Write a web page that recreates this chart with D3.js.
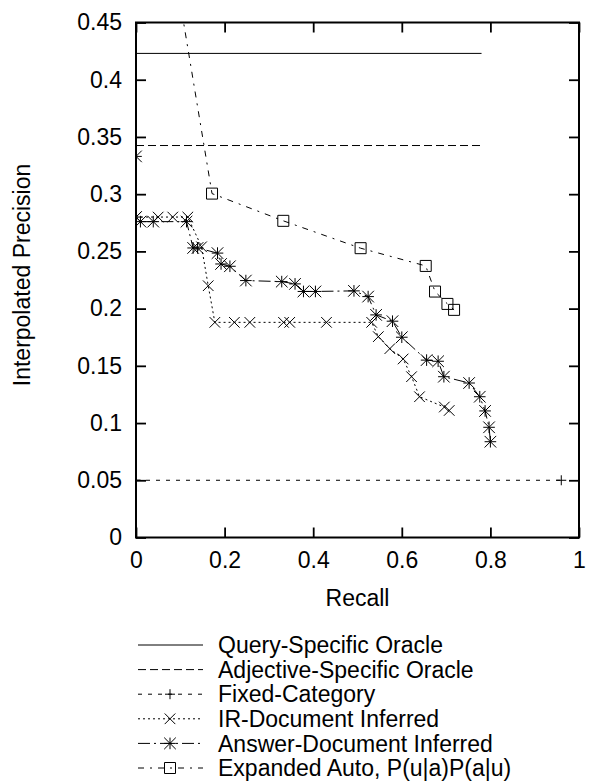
<!DOCTYPE html>
<html>
<head>
<meta charset="utf-8">
<script src="https://cdn.jsdelivr.net/npm/d3@7"></script>
<style>
body{margin:0;background:#fff;}
svg text{font-family:"Liberation Sans",Arial,Helvetica,sans-serif;fill:#000;}
</style>
</head>
<body>
<div id="chart"></div>
<script>
// values
const seriesNames = ["Query-Specific Oracle", "Adjective-Specific Oracle", "Fixed-Category",
  "IR-Document Inferred", "Answer-Document Inferred", "Expanded Auto, P(u|a)P(a|u)"];

const queryRecall = [0, 0.78];
const queryPrecision = [0.423, 0.423];

const adjRecall = [0, 0.78];
const adjPrecision = [0.3425, 0.3425];

const fixedRecall = [0, 0.96];
const fixedPrecision = [0.05, 0.05];

const irRecall = [0, 0.05, 0.083, 0.117, 0.148, 0.163, 0.178, 0.222, 0.257, 0.333, 0.347, 0.43,
  0.532, 0.547, 0.573, 0.603, 0.622, 0.64, 0.696, 0.707];
const irPrecision = [0.28, 0.28, 0.28, 0.28, 0.254, 0.22, 0.188, 0.188, 0.188, 0.188, 0.188, 0.188,
  0.188, 0.1755, 0.165, 0.156, 0.1405, 0.123, 0.114, 0.111];

const answerRecall = [0, 0, 0.01, 0.039, 0.114, 0.129, 0.139, 0.184, 0.192, 0.212, 0.248, 0.329,
  0.359, 0.378, 0.405, 0.492, 0.524, 0.542, 0.579, 0.6, 0.656, 0.682, 0.695, 0.752, 0.776,
  0.788, 0.797, 0.8];
const answerPrecision = [0.333, 0.28, 0.276, 0.276, 0.276, 0.253, 0.253, 0.2485, 0.239, 0.237,
  0.2245, 0.2236, 0.2216, 0.215, 0.215, 0.2155, 0.2105, 0.1945, 0.189, 0.175, 0.155, 0.154,
  0.1405, 0.135, 0.123, 0.1106, 0.0963, 0.0837];

const expandedRecall = [0, 0.1716, 0.3325, 0.507, 0.654, 0.675, 0.703, 0.718];
const expandedPrecision = [0.70, 0.3005, 0.2767, 0.2528, 0.2373, 0.2149, 0.2041, 0.1989];

const xTickValues = [0, 0.2, 0.4, 0.6, 0.8, 1];
const xTickLabels = ["0", "0.2", "0.4", "0.6", "0.8", "1"];
const yTickValues = [0, 0.05, 0.1, 0.15, 0.2, 0.25, 0.3, 0.35, 0.4, 0.45];
const yTickLabels = ["0", "0.05", "0.1", "0.15", "0.2", "0.25", "0.3", "0.35", "0.4", "0.45"];

const width = 591, height = 781;
const plot = {left: 136, right: 579, top: 22.5, bottom: 537.5};
const fontSize = 23;

// gnuplot line types 0..5 and point types
const dashes = [null, "8,4", "4,6", "2,3", "12,4,2,4", "6,6,2,6"];
const markers = [null, null, "plus", "cross", "star", "square"];

let series = [
  d3.zip(queryRecall, queryPrecision),
  d3.zip(adjRecall, adjPrecision),
  d3.zip(fixedRecall, fixedPrecision),
  d3.zip(irRecall, irPrecision),
  d3.zip(answerRecall, answerPrecision),
  d3.zip(expandedRecall, expandedPrecision)
];

let x = d3.scaleLinear().domain([0, 1]).range([plot.left, plot.right]);
let y = d3.scaleLinear().domain([0, 0.45]).range([plot.bottom, plot.top]);

let svg = d3.select("#chart").append("svg")
  .attr("width", width)
  .attr("height", height);

svg.append("defs").append("clipPath").attr("id", "clip")
  .append("rect")
  .attr("x", plot.left).attr("y", plot.top)
  .attr("width", plot.right - plot.left)
  .attr("height", plot.bottom - plot.top);

// marker shapes, h = half size
function markerPath(type, h){
  if(type == "plus") return `M${-h},0H${h}M0,${-h}V${h}`;
  if(type == "cross") return `M${-h},${-h}L${h},${h}M${-h},${h}L${h},${-h}`;
  if(type == "star") return `M${-h},0H${h}M0,${-h}V${h}M${-h},${-h}L${h},${h}M${-h},${h}L${h},${-h}`;
  if(type == "square") return `M${-h},${-h}H${h}V${h}H${-h}Z`;
  return "";
}
const markerSize = {plus: 5, cross: 5.3, star: 5.8, square: 5.5};

// axes, ticks pointing inward on all four sides
let axisStyle = g => {
  g.select(".domain").remove();
  g.selectAll(".tick line").attr("stroke", "#000").attr("stroke-width", 1.8);
  g.selectAll(".tick text").attr("font-size", fontSize).attr("fill", "#000");
};

svg.append("g")
  .attr("transform", "translate(0," + plot.bottom + ")")
  .call(d3.axisBottom(x).tickValues(xTickValues).tickSize(-10).tickPadding(14)
    .tickFormat((d, i) => xTickLabels[i]))
  .call(axisStyle);

svg.append("g")
  .attr("transform", "translate(0," + plot.top + ")")
  .call(d3.axisTop(x).tickValues(xTickValues).tickSize(-10).tickFormat(""))
  .call(axisStyle);

svg.append("g")
  .attr("transform", "translate(" + plot.left + ",0)")
  .call(d3.axisLeft(y).tickValues(yTickValues).tickSize(-10).tickPadding(14)
    .tickFormat((d, i) => yTickLabels[i]))
  .call(axisStyle);

svg.append("g")
  .attr("transform", "translate(" + plot.right + ",0)")
  .call(d3.axisRight(y).tickValues(yTickValues).tickSize(-10).tickFormat(""))
  .call(axisStyle);

// data lines
let line = d3.line()
  .x(d => x(d[0]))
  .y(d => y(d[1]));

let dataG = svg.append("g").attr("clip-path", "url(#clip)");

series.forEach((s, i) => {
  dataG.append("path")
    .datum(s)
    .attr("fill", "none")
    .attr("stroke", "#000")
    .attr("stroke-width", 1)
    .attr("stroke-dasharray", dashes[i])
    .attr("d", line);

  if(markers[i]){
    dataG.selectAll(".m" + i)
      .data(s)
      .enter().append("path")
      .attr("class", "m" + i)
      .attr("transform", d => "translate(" + x(d[0]) + "," + y(d[1]) + ")")
      .attr("d", markerPath(markers[i], markerSize[markers[i]]))
      .attr("fill", "none")
      .attr("stroke", "#000")
      .attr("stroke-width", 1);
  }
});

// frame
svg.append("rect")
  .attr("x", plot.left).attr("y", plot.top)
  .attr("width", plot.right - plot.left)
  .attr("height", plot.bottom - plot.top)
  .attr("fill", "none")
  .attr("stroke", "#000")
  .attr("stroke-width", 2);

// axis titles
svg.append("text")
  .attr("text-anchor", "middle")
  .attr("font-size", fontSize)
  .attr("transform", "translate(30,275)rotate(-90)")
  .text("Interpolated Precision");

svg.append("text")
  .attr("text-anchor", "middle")
  .attr("font-size", fontSize)
  .attr("x", (plot.left + plot.right) / 2)
  .attr("y", 606)
  .text("Recall");

// legend
let legend = svg.append("g");
seriesNames.forEach((name, i) => {
  let ly = 645 + i * 24.6;
  legend.append("line")
    .attr("x1", 138).attr("x2", 203)
    .attr("y1", ly).attr("y2", ly)
    .attr("stroke", "#000")
    .attr("stroke-width", 1)
    .attr("stroke-dasharray", dashes[i]);
  if(markers[i]){
    legend.append("path")
      .attr("transform", "translate(170," + ly + ")")
      .attr("d", markerPath(markers[i], markerSize[markers[i]]))
      .attr("fill", "none")
      .attr("stroke", "#000");
  }
  legend.append("text")
    .attr("x", 218)
    .attr("y", ly)
    .attr("dy", "0.36em")
    .attr("font-size", fontSize)
    .text(name);
});
</script>
</body>
</html>
